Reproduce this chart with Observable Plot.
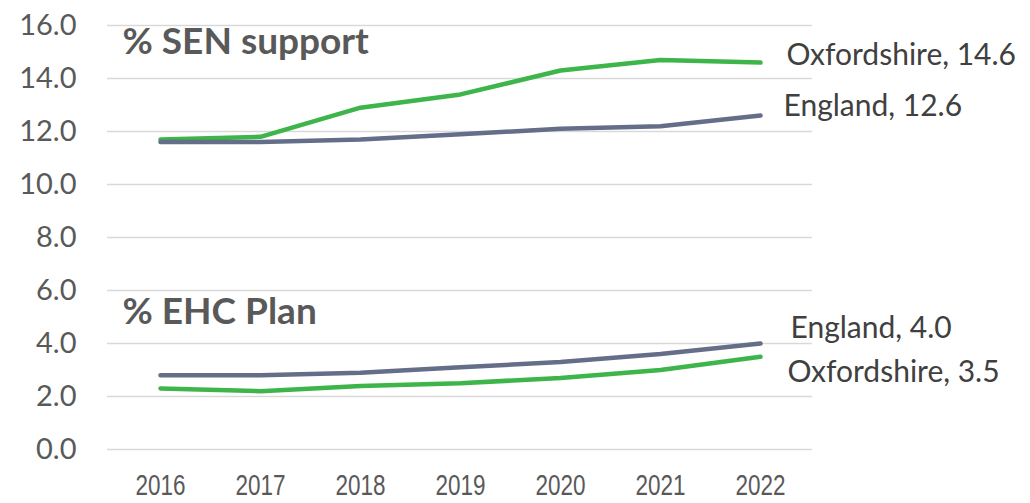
<!DOCTYPE html>
<html><head><meta charset="utf-8">
<script src="https://cdn.jsdelivr.net/npm/d3@7"></script>
<script src="https://cdn.jsdelivr.net/npm/@observablehq/plot@0.6"></script>
<style>body{margin:0;background:#fff} svg{display:block}</style>
</head><body><div id="chart"></div>
<script>
const years = ["2016", "2017", "2018", "2019", "2020", "2021", "2022"];
const oxfordshireSEN = [11.7, 11.8, 12.9, 13.4, 14.3, 14.7, 14.6];
const englandSEN = [11.6, 11.6, 11.7, 11.9, 12.1, 12.2, 12.6];
const englandEHC = [2.8, 2.8, 2.9, 3.1, 3.3, 3.6, 4.0];
const oxfordshireEHC = [2.3, 2.2, 2.4, 2.5, 2.7, 3.0, 3.5];
const yTicks = [0, 2, 4, 6, 8, 10, 12, 14, 16];
const titleSEN = "% SEN support";
const titleEHC = "% EHC Plan";

const GREEN = "#3db54a", GREY = "#646e88";
const rows = (vals) => years.map((y, i) => ({year: y, value: vals[i]}));
const series = [
  {name: "Oxfordshire", vals: oxfordshireSEN, color: GREEN, dx: 26, dy: -7},
  {name: "England", vals: englandSEN, color: GREY, dx: 23, dy: -9},
  {name: "England", vals: englandEHC, color: GREY, dx: 30, dy: -15},
  {name: "Oxfordshire", vals: oxfordshireEHC, color: GREEN, dx: 27, dy: 16}
];

const marks = [
  Plot.gridY(yTicks, {stroke: "#d9d9d9", strokeOpacity: 1, strokeWidth: 1.6}),
  Plot.axisY(yTicks, {tickFormat: d3.format(".1f"), tickSize: 0, tickPadding: 31, fontSize: 29, fill: "#595959", label: null}),
  Plot.axisX({tickSize: 0, tickPadding: 25, fontSize: 29, fontFamily: "'Liberation Sans Narrow', 'Liberation Sans', sans-serif", fill: "#595959", label: null}),
  Plot.text([titleSEN], {frameAnchor: "top-left", dx: 15, dy: 17, lineAnchor: "middle", fontSize: 37, fontWeight: "bold", fill: "#595959"}),
  Plot.text([titleEHC], {frameAnchor: "top-left", dx: 15, dy: 287, lineAnchor: "middle", fontSize: 37, fontWeight: "bold", fill: "#595959"})
];
for (const s of series) {
  const data = rows(s.vals);
  marks.push(Plot.line(data, {x: "year", y: "value", stroke: s.color, strokeWidth: 4.5, strokeLinecap: "round", strokeLinejoin: "round"}));
  const last = data[data.length - 1];
  marks.push(Plot.text([last], {x: "year", y: "value", text: d => `${s.name}, ${d.value.toFixed(1)}`, textAnchor: "start", dx: s.dx, dy: s.dy, fontSize: 30, fill: "#404040"}));
}

const chart = Plot.plot({
  width: 1030, height: 503,
  marginLeft: 107, marginRight: 218, marginTop: 25, marginBottom: 54,
  style: {fontFamily: "Lato, sans-serif", background: "white", overflow: "visible"},
  x: {type: "point", domain: years, padding: 0.5, align: 0.5},
  y: {domain: [0, 16]},
  marks
});
document.getElementById("chart").appendChild(chart);
chart.querySelectorAll('g[aria-label="x-axis tick label"] text').forEach(t => {
  t.setAttribute("textLength", "50");
  t.setAttribute("lengthAdjust", "spacingAndGlyphs");
});
</script>
</body></html>
